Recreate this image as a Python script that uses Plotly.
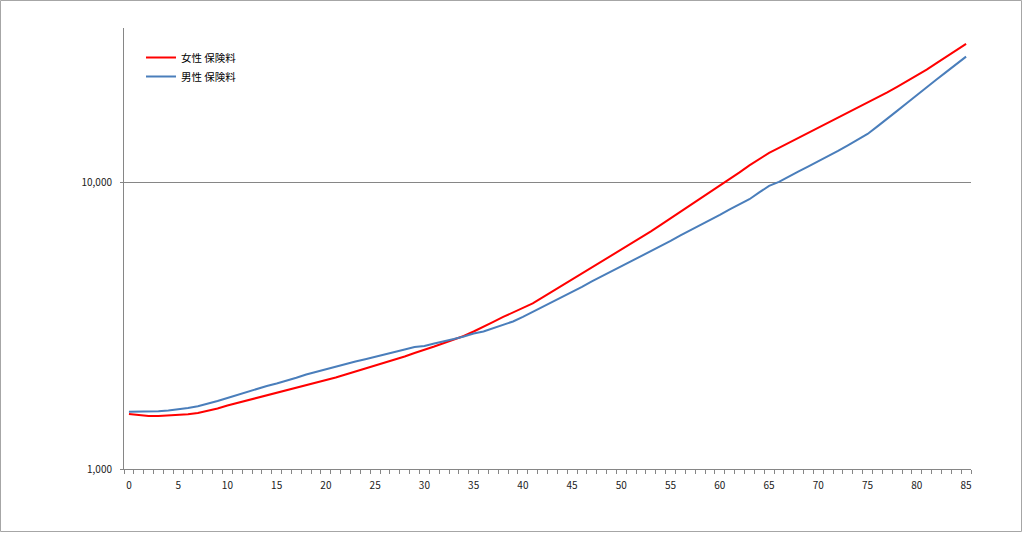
import plotly.graph_objects as go

ages = list(range(0, 86))

female_premium = [
    1557, 1545, 1532, 1532, 1538, 1545, 1553, 1570, 1598, 1628,
    1667, 1701, 1736, 1771, 1807, 1847, 1889, 1927, 1967, 2010,
    2051, 2089, 2140, 2192, 2241, 2292, 2348, 2415, 2474, 2545,
    2607, 2681, 2758, 2837, 2918, 3025, 3137, 3266, 3400, 3525,
    3647, 3790, 3978, 4175, 4381, 4598, 4826, 5065, 5307, 5569,
    5840, 6119, 6422, 6767, 7131, 7514, 7918, 8343, 8791, 9279,
    9777, 10286, 10882, 11513, 12132, 12732, 13255, 13800, 14366, 14956,
    15571, 16210, 16876, 17569, 18291, 19042, 19873, 20722, 21660, 22641,
    23666, 24897, 26214, 27578, 29059, 30621,
]

male_premium = [
    1586, 1586, 1586, 1591, 1602, 1614, 1634, 1657, 1690, 1729,
    1771, 1814, 1866, 1907, 1951, 1990, 2031, 2084, 2140, 2187,
    2237, 2286, 2333, 2376, 2419, 2464, 2514, 2565, 2617, 2670,
    2692, 2747, 2791, 2848, 2906, 2977, 3025, 3112, 3188, 3279,
    3400, 3540, 3685, 3821, 3978, 4158, 4329, 4525, 4711, 4904,
    5106, 5315, 5556, 5784, 6022, 6269, 6553, 6822, 7102, 7424,
    7729, 8079, 8445, 8770, 9264, 9761, 10081, 10537, 10970, 11421,
    11890, 12358, 12939, 13524, 14194, 14836, 15760, 16741, 17855, 19042,
    20309, 21573, 23009, 24441, 26067, 27645,
]

series_names = ["女性 保険料", "男性 保険料"]
x_tick_vals = list(range(0, 86, 5))
x_tick_text = [str(v) for v in x_tick_vals]
y_tick_vals = [1000, 10000]
y_tick_text = ["1,000", "10,000"]

AXIS = "#868686"
FONT = "Noto Sans CJK JP, Meiryo, sans-serif"

fig = go.Figure()
fig.add_trace(go.Scatter(x=ages, y=female_premium, mode="lines", name=series_names[0],
                         line=dict(color="#ff0000", width=2)))
fig.add_trace(go.Scatter(x=ages, y=male_premium, mode="lines", name=series_names[1],
                         line=dict(color="#4a7ebb", width=2)))

L, R, T, B = 124, 53, 28, 64
W, H = 1024, 533
pw, ph = W - L - R, H - T - B

fig.update_layout(
    width=W, height=H,
    margin=dict(l=L, r=R, t=T, b=B, pad=0),
    paper_bgcolor="white", plot_bgcolor="white",
    font=dict(family=FONT, size=10, color="#222222"),
    showlegend=True,
    legend=dict(x=(141 - L) / pw, y=1 - (43 - T) / ph, xanchor="left", yanchor="top",
                bgcolor="rgba(0,0,0,0)", font=dict(size=10.5, color="#000000"),
                itemwidth=30, tracegroupgap=0),
    xaxis=dict(
        range=[-0.5, 85.5], tickmode="array", tickvals=x_tick_vals, ticktext=x_tick_text,
        ticks="", showgrid=False, zeroline=False,
        showline=True, linecolor=AXIS, linewidth=1,
        tickfont=dict(size=10, color="#222222"), ticklabelstandoff=7,
        minor=dict(tickmode="linear", tick0=-0.5, dtick=1, ticks="outside",
                   ticklen=4, tickcolor=AXIS, tickwidth=1, showgrid=False),
    ),
    yaxis=dict(
        type="log", range=[3, 4.5416],
        tickmode="array", tickvals=y_tick_vals, ticktext=y_tick_text,
        ticks="outside", ticklen=3, tickcolor=AXIS, tickwidth=1,
        showgrid=True, gridcolor=AXIS, gridwidth=1, zeroline=False,
        showline=True, linecolor=AXIS, linewidth=1,
        tickfont=dict(size=10, color="#222222"), ticklabelstandoff=6,
    ),
)

fig.add_shape(type="rect", xref="paper", yref="paper",
              x0=(0.5 - L) / pw, x1=(1021.5 - L) / pw,
              y0=(H - B - 531.5) / ph, y1=(H - B - 0.5) / ph,
              line=dict(color="#a6a6a6", width=1), fillcolor="rgba(0,0,0,0)")

fig.write_html("out.html",
               config={"displayModeBar": False},
               post_script="document.body.style.margin='0';document.body.style.overflow='hidden';")
